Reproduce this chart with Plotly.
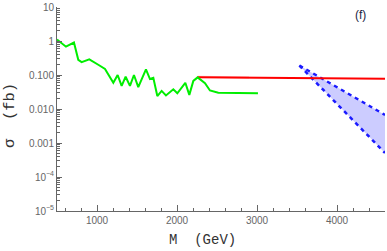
import plotly.graph_objects as go

# ---- data ----
m_green = [500, 510, 612, 712, 766, 808, 904, 1016, 1100, 1204, 1258, 1308, 1358, 1412, 1462,
           1516, 1612, 1662, 1704, 1754, 1808, 1862, 1954, 2004, 2104, 2154, 2204, 2258,
           2350, 2412, 2516, 3012]
sigma_green = [1.1, 1.05, 0.68, 0.9, 0.28, 0.24, 0.29, 0.20, 0.15, 0.059, 0.10, 0.048, 0.089,
               0.048, 0.10, 0.044, 0.147, 0.076, 0.083, 0.024, 0.034, 0.025, 0.038, 0.029,
               0.059, 0.026, 0.067, 0.085, 0.057, 0.035, 0.030, 0.029]

m_red = [2258, 4600]
sigma_red = [0.086, 0.078]
m_red_faint = [2258, 2900]
sigma_red_faint = [0.089, 0.085]

m_band = [3530, 4600]
sigma_band_upper = [0.19, 0.0067]
sigma_band_lower = [0.19, 0.00051]

y_tickvals = [1e-5, 1e-4, 1e-3, 1e-2, 1e-1, 1, 10]
y_ticktext = ["10<sup>\u22125</sup>", "10<sup>\u22124</sup>", "0.001", "0.010", "0.100", "1", "10"]
x_tickvals = [1000, 2000, 3000, 4000]
x_ticktext = ["1000", "2000", "3000", "4000"]

y_minor = [k * 10 ** e for e in range(-5, 1) for k in range(2, 10)]

fig = go.Figure()

fig.add_trace(go.Scatter(x=m_band, y=sigma_band_upper, mode="lines",
                         line=dict(color="rgba(0,0,0,0)", width=0), showlegend=False))
fig.add_trace(go.Scatter(x=m_band, y=sigma_band_lower, mode="lines", fill="tonexty",
                         fillcolor="rgb(204,204,255)",
                         line=dict(color="rgba(0,0,0,0)", width=0), showlegend=False))
fig.add_trace(go.Scatter(x=m_band, y=sigma_band_upper, mode="lines",
                         line=dict(color="#1a1aff", width=2.5, dash="4px,4px"), showlegend=False))
fig.add_trace(go.Scatter(x=m_band, y=sigma_band_lower, mode="lines",
                         line=dict(color="#1a1aff", width=2.5, dash="4px,4px"), showlegend=False))

fig.add_trace(go.Scatter(x=m_red_faint, y=sigma_red_faint, mode="lines",
                         line=dict(color="rgba(255,80,80,0.35)", width=2), showlegend=False))
fig.add_trace(go.Scatter(x=m_red, y=sigma_red, mode="lines",
                         line=dict(color="#ff0000", width=2), showlegend=False))
fig.add_trace(go.Scatter(x=m_green, y=sigma_green, mode="lines",
                         line=dict(color="#00ee00", width=2), showlegend=False))

tickfont = dict(family="Liberation Sans, Arial, sans-serif", size=10, color="#666666")
titlefont = dict(family="Liberation Mono, Courier New, monospace", size=14, color="#333333")
ytitlefont = dict(family="Liberation Mono, Courier New, monospace", size=15.5, color="#333333")

fig.update_layout(
    width=387, height=251,
    margin=dict(l=57, r=2, t=7, b=40),
    paper_bgcolor="white", plot_bgcolor="white",
    xaxis=dict(range=[500, 4600], showgrid=False, zeroline=False,
               showline=True, linecolor="#666666", linewidth=1,
               tickmode="array", tickvals=x_tickvals, ticktext=x_ticktext,
               ticks="inside", ticklen=6, tickcolor="#666666", tickfont=tickfont,
               minor=dict(tickmode="linear", tick0=0, dtick=200, ticks="inside",
                          ticklen=3, tickcolor="#666666", showgrid=False)),
    yaxis=dict(type="log", range=[-5, 1], showgrid=False, zeroline=False,
               showline=True, linecolor="#666666", linewidth=1,
               tickmode="array", tickvals=y_tickvals, ticktext=y_ticktext,
               ticks="inside", ticklen=5, tickcolor="#666666", tickfont=tickfont,
               minor=dict(tickmode="array", tickvals=y_minor, ticks="inside",
                          ticklen=2.5, tickcolor="#666666", showgrid=False)),
    annotations=[
        dict(text="M  (GeV)", x=167, y=240, xref="paper", yref="paper", showarrow=False,
             font=titlefont, xanchor="left", yanchor="middle"),
        dict(text="\u03c3  (fb)", x=10, y=116, xref="paper", yref="paper", showarrow=False,
             textangle=-90, font=ytitlefont, xanchor="center", yanchor="middle"),
        dict(text="(f)", x=360, y=15, xref="paper", yref="paper", showarrow=False,
             font=dict(family="Liberation Sans, Arial, sans-serif", size=12, color="#222244"),
             xanchor="center", yanchor="middle"),
    ],
)

# convert pixel annotation positions to paper coords
pw, ph = 387 - 57 - 2, 251 - 7 - 40
for a in fig.layout.annotations:
    a.x = (a.x - 57) / pw
    a.y = 1 - (a.y - 7) / ph

fig.write_html("out.html", config={"displayModeBar": False},
               post_script="document.body.style.margin='0';document.body.style.overflow='hidden';")
